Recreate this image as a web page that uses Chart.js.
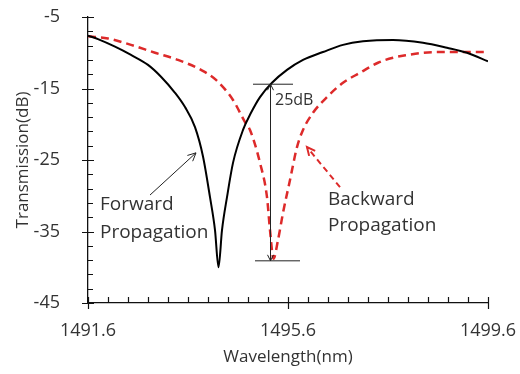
<!DOCTYPE html>
<html>
<head>
<meta charset="utf-8">
<script src="https://cdn.jsdelivr.net/npm/chart.js@4"></script>
<style>
  body { margin: 0; background: #fff; }
  #wrap { width: 520px; height: 374px; }
</style>
</head>
<body>
<div id="wrap"><canvas id="chart" width="520" height="374"></canvas></div>
<script>
// forward propagation (black solid)
const fwdWl = [1491.6, 1491.8, 1492.14, 1492.46, 1492.8, 1493.06, 1493.34, 1493.54, 1493.74, 1493.9,
  1494.04, 1494.14, 1494.21, 1494.28, 1494.38, 1494.5, 1494.7, 1494.86, 1495.04, 1495.28,
  1495.58, 1495.9, 1496.3, 1496.7, 1497.1, 1497.7, 1498.3, 1498.78, 1499.18, 1499.6];
const fwdDb = [-7.6, -8.1, -9.15, -10.3, -11.7, -13.35, -15.6, -17.6, -20.4, -24.5,
  -30.2, -34.8, -40.0, -34.8, -30.2, -25.4, -20.8, -18.4, -16.2, -14.2,
  -12.4, -11.0, -9.9, -8.9, -8.4, -8.2, -8.6, -9.3, -10.0, -11.2];

// backward propagation (red dashed)
const bwdWl = [1491.6, 1492.0, 1492.46, 1492.94, 1493.4, 1493.86, 1494.16, 1494.5, 1494.74, 1494.84,
  1495.04, 1495.18, 1495.24, 1495.31, 1495.4, 1495.5, 1495.64, 1495.78, 1495.9, 1496.1,
  1496.38, 1496.7, 1497.04, 1497.4, 1497.7, 1498.0, 1498.3, 1498.78, 1499.18, 1499.6];
const bwdDb = [-7.7, -8.0, -8.9, -10.0, -11.0, -12.4, -13.8, -16.6, -19.7, -20.8,
  -25.4, -30.2, -34.8, -38.8, -36.2, -32.4, -27.8, -23.2, -20.8, -18.4,
  -16.2, -14.2, -12.8, -11.4, -10.7, -10.3, -10.0, -9.9, -9.9, -9.9];

const xTicks = [1491.6, 1495.6, 1499.6];
const yTicks = [-45, -35, -25, -15, -5];

const FONT = "'Open Sans', sans-serif";
const TEXT = '#333';

function pts(xs, ys) { return xs.map((x, i) => ({ x, y: ys[i] })); }

// tick marks, annotation arrows and labels
const extras = {
  id: 'extras',
  afterDraw(chart) {
    const ctx = chart.ctx;
    const xs = chart.scales.x, ys = chart.scales.y;
    const X = v => xs.getPixelForValue(v), Y = v => ys.getPixelForValue(v);
    const ax = chart.chartArea.left, ay = chart.chartArea.bottom;
    ctx.save();
    ctx.strokeStyle = '#111';
    ctx.lineWidth = 1.2;
    ctx.beginPath();
    // y ticks: majors cross, minors every 2 dB
    for (let v = yTicks[0]; v <= yTicks[yTicks.length - 1] + 1e-6; v += 2) {
      const major = yTicks.some(t => Math.abs(t - v) < 1e-6);
      const p = Math.round(Y(v)) + 0.5;
      ctx.moveTo(ax - (major ? 6 : 0), p);
      ctx.lineTo(ax + (major ? 6 : 5), p);
    }
    // x ticks: minors every 0.4 nm
    for (let i = 0; i <= 20; i++) {
      const v = xTicks[0] + i * 0.4;
      const major = i % 10 === 0;
      const p = Math.round(X(v)) + 0.5;
      ctx.moveTo(p, ay + (major ? 6 : 0));
      ctx.lineTo(p, ay - 6);
    }
    ctx.stroke();

    // 25 dB marker
    const mx = X(1495.25), top = Y(-14.4), bot = Y(-39.1);
    ctx.strokeStyle = '#222';
    ctx.lineWidth = 1;
    ctx.beginPath();
    ctx.moveTo(X(1494.9), top); ctx.lineTo(X(1495.7), top);
    ctx.moveTo(X(1494.94), bot); ctx.lineTo(X(1495.84), bot);
    ctx.moveTo(mx, top); ctx.lineTo(mx, bot);
    ctx.moveTo(mx - 3, top + 6); ctx.lineTo(mx, top); ctx.lineTo(mx + 3, top + 6);
    ctx.moveTo(mx - 3, bot - 6); ctx.lineTo(mx, bot); ctx.lineTo(mx + 3, bot - 6);
    ctx.stroke();

    // arrow helper
    function arrow(x1, y1, x2, y2, color, dash, width) {
      const a = Math.atan2(y2 - y1, x2 - x1);
      ctx.strokeStyle = color;
      ctx.lineWidth = width;
      ctx.setLineDash(dash);
      ctx.beginPath();
      ctx.moveTo(x1, y1); ctx.lineTo(x2, y2);
      ctx.stroke();
      ctx.setLineDash([]);
      ctx.beginPath();
      ctx.moveTo(x2 - 9 * Math.cos(a - 0.45), y2 - 9 * Math.sin(a - 0.45));
      ctx.lineTo(x2, y2);
      ctx.lineTo(x2 - 9 * Math.cos(a + 0.45), y2 - 9 * Math.sin(a + 0.45));
      ctx.stroke();
    }
    arrow(X(1492.84), Y(-29.9), X(1493.76), Y(-24.0), '#222', [], 1);
    arrow(X(1496.64), Y(-28.8), X(1495.98), Y(-23.2), '#dd2a2a', [6, 4], 2);

    ctx.fillStyle = TEXT;
    ctx.textBaseline = 'middle';
    ctx.textAlign = 'left';
    ctx.font = '19px ' + FONT;
    ctx.fillText('Forward', X(1491.84), Y(-31.3));
    ctx.fillText('Propagation', X(1491.84), Y(-35.1));
    ctx.fillText('Backward', X(1496.4), Y(-30.6));
    ctx.fillText('Propagation', X(1496.4), Y(-34.2));
    ctx.font = '16px ' + FONT;
    ctx.fillText('25dB', X(1495.34), Y(-16.6));
    ctx.restore();
  }
};

new Chart(document.getElementById('chart'), {
  type: 'line',
  data: {
    datasets: [
      {
        label: 'Forward Propagation',
        data: pts(fwdWl, fwdDb),
        borderColor: '#000',
        borderWidth: 2,
        pointRadius: 0,
        cubicInterpolationMode: 'monotone'
      },
      {
        label: 'Backward Propagation',
        data: pts(bwdWl, bwdDb),
        borderColor: '#dd2a2a',
        borderWidth: 2.5,
        borderDash: [8, 5],
        pointRadius: 0,
        cubicInterpolationMode: 'monotone'
      }
    ]
  },
  options: {
    responsive: false,
    animation: false,
    devicePixelRatio: 1,
    layout: { padding: { left: 0, top: 17, right: 32, bottom: 0 } },
    plugins: { legend: { display: false }, tooltip: { enabled: false } },
    scales: {
      x: {
        type: 'linear',
        min: 1491.6,
        max: 1499.6,
        afterBuildTicks: s => { s.ticks = xTicks.map(v => ({ value: v })); },
        afterFit: s => { s.height = 71; s.paddingLeft = 0; s.paddingRight = 0; },
        grid: { display: false },
        border: { display: true, color: '#111', width: 1.3 },
        ticks: {
          padding: 9,
          color: TEXT,
          font: { family: FONT, size: 18 },
          maxRotation: 0,
          callback: v => v.toFixed(1)
        },
        title: {
          display: true,
          text: 'Wavelength(nm)',
          color: TEXT,
          font: { family: FONT, size: 17 },
          padding: { top: 0, bottom: 7 }
        }
      },
      y: {
        min: -45,
        max: -5,
        afterBuildTicks: s => { s.ticks = yTicks.map(v => ({ value: v })); },
        afterFit: s => { s.width = 88; s.paddingTop = 0; s.paddingBottom = 0; },
        grid: { display: false },
        border: { display: true, color: '#111', width: 1.3 },
        ticks: {
          padding: 20,
          color: TEXT,
          font: { family: FONT, size: 18 },
          callback: v => String(v)
        },
        title: {
          display: true,
          text: 'Transmission(dB)',
          color: TEXT,
          font: { family: FONT, size: 17 },
          padding: { top: 13, bottom: 0 }
        }
      }
    }
  },
  plugins: [extras]
});
</script>
</body>
</html>
